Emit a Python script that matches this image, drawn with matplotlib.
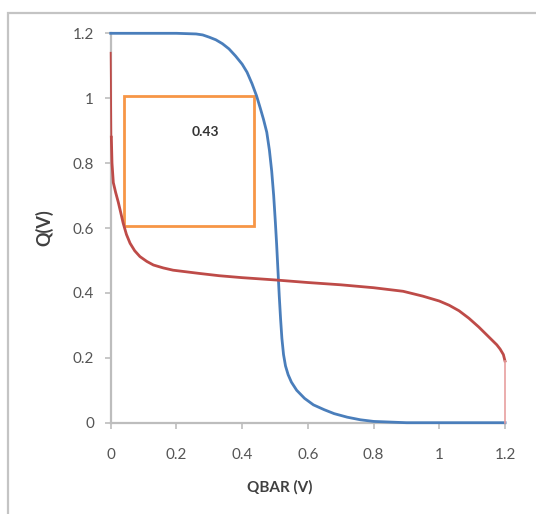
import numpy as np
import matplotlib.pyplot as plt
from matplotlib.patches import Rectangle

plt.rcParams['font.family'] = ['Lato', 'DejaVu Sans']

# blue curve (Q vs QBAR, first inverter)
blue_x = [0.0, 0.10, 0.20, 0.26, 0.28, 0.30, 0.32, 0.34, 0.36, 0.38, 0.40, 0.415, 0.43,
          0.444, 0.455, 0.465, 0.475, 0.483, 0.49, 0.496, 0.501, 0.505, 0.509, 0.513,
          0.517, 0.521, 0.526, 0.532, 0.54, 0.55, 0.566, 0.59, 0.617, 0.65, 0.68, 0.72,
          0.76, 0.80, 0.85, 0.90, 1.0, 1.2]
blue_y = [1.2, 1.2, 1.2, 1.198, 1.195, 1.188, 1.18, 1.168, 1.152, 1.13, 1.105, 1.08, 1.045,
          1.007, 0.97, 0.935, 0.895, 0.84, 0.775, 0.70, 0.62, 0.55, 0.47, 0.39,
          0.32, 0.26, 0.21, 0.175, 0.148, 0.125, 0.10, 0.075, 0.055, 0.04, 0.028, 0.017,
          0.009, 0.004, 0.002, 0.0, 0.0, 0.0]

# red curve (second inverter)
red_x = [0.0, 0.002, 0.004, 0.008, 0.015, 0.023, 0.03, 0.038, 0.048, 0.059, 0.073, 0.089,
         0.11, 0.13, 0.16, 0.19, 0.23, 0.27, 0.33, 0.40, 0.50, 0.60, 0.70, 0.80, 0.89,
         0.95, 1.0, 1.03, 1.06, 1.09, 1.12, 1.14, 1.16, 1.175, 1.185, 1.195, 1.2, 1.2]
red_y = [1.14, 0.88, 0.80, 0.74, 0.71, 0.68, 0.65, 0.615, 0.58, 0.553, 0.53, 0.512,
         0.497, 0.486, 0.477, 0.47, 0.465, 0.46, 0.453, 0.447, 0.44, 0.432, 0.425, 0.416,
         0.405, 0.39, 0.375, 0.362, 0.345, 0.322, 0.295, 0.275, 0.255, 0.24, 0.227, 0.21,
         0.19, 0.0]

# noise margin square
box_x = [0.04, 0.437]
box_y = [0.607, 1.007]
box_label = "0.43"

ticks = [0, 0.2, 0.4, 0.6, 0.8, 1, 1.2]
tick_labels = ["0", "0.2", "0.4", "0.6", "0.8", "1", "1.2"]

fig = plt.figure(figsize=(5.36, 5.14), dpi=100)
ax = fig.add_axes([0.2065, 0.1776, 0.7357, 0.7576])

# outer frame of the excel chart
fig.patches.append(Rectangle((0.014, -0.1), 1.2, 1.074, transform=fig.transFigure,
                             fill=False, edgecolor='#c4c4c4', linewidth=1.6))

blue = '#4a7ebb'
red = '#be4b48'
orange = '#f79646'

ax.plot(blue_x, blue_y, color=blue, lw=2.0, clip_on=False, zorder=3)
ax.plot(red_x[:2], red_y[:2], color=red, lw=1.3, clip_on=False, zorder=3)
ax.plot(red_x[1:-1], red_y[1:-1], color=red, lw=2.0, clip_on=False, zorder=3)
ax.plot(red_x[-2:], red_y[-2:], color='#e8a0a0', lw=1.2, clip_on=False, zorder=3)

ax.add_patch(Rectangle((box_x[0], box_y[0]), box_x[1] - box_x[0], box_y[1] - box_y[0],
                       fill=False, edgecolor=orange, lw=2.0, zorder=2))
ax.text(0.287, 0.896, box_label, fontsize=10, fontweight='bold', color='#333333',
        ha='center', va='center')

ax.set_xlim(0, 1.2)
ax.set_ylim(0, 1.2)
ax.set_xticks(ticks)
ax.set_xticklabels(tick_labels)
ax.set_yticks(ticks)
ax.set_yticklabels(tick_labels)

for s in ['top', 'right']:
    ax.spines[s].set_visible(False)
for s in ['left', 'bottom']:
    ax.spines[s].set_color('#bdbdbd')
    ax.spines[s].set_linewidth(1.6)

ax.tick_params(axis='both', direction='out', length=4, width=1.2, color='#bdbdbd',
               labelsize=11, labelcolor='#555555')
ax.tick_params(axis='x', pad=14)
ax.tick_params(axis='y', pad=8)

ax.set_xlabel('QBAR (V)', fontsize=11, fontweight='bold', color='#404040')
ax.set_ylabel('Q(V)', fontsize=13, fontweight='bold', color='#404040')
ax.xaxis.set_label_coords(0.43, -0.165)
ax.yaxis.set_label_coords(-0.169, 0.5)
ax.xaxis.label.set_va('center')
ax.yaxis.label.set_va('center')

fig.savefig('out.png', dpi=100)
